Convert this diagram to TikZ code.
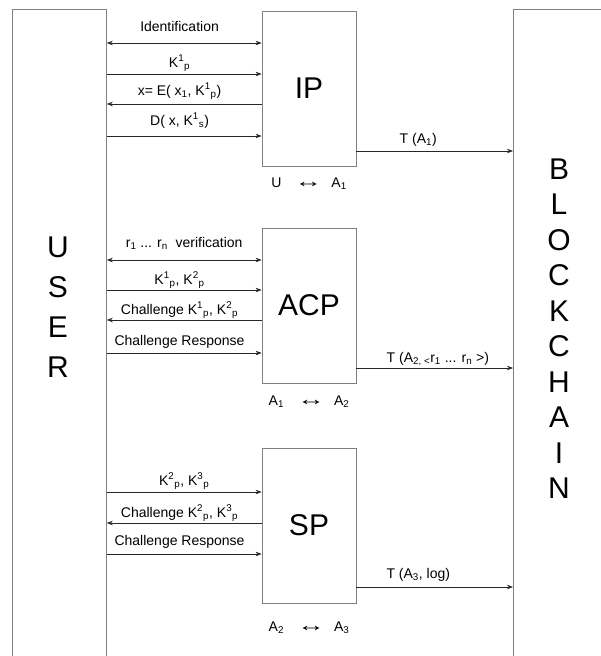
\documentclass[tikz,border=0pt]{standalone}
\usepackage{graphicx}
\usepackage{fontspec}
\setmainfont{Liberation Sans}
\usetikzlibrary{arrows.meta,positioning}

\newcommand{\lr}{\scalebox{2}[1.3]{↔}}

\tikzset{
  side/.style={draw=black!50, line width=0.8pt, anchor=north west, minimum height=700pt},
  box/.style={draw=black!50, line width=0.8pt, minimum width=94pt, minimum height=155pt,
    font=\fontsize{30}{30}\selectfont},
  tall/.style={align=center, inner sep=0pt},
  msg/.style={->, draw=black!85, line width=0.7pt},
  lbl/.style={font=\fontsize{14}{16}\selectfont, anchor=base, inner sep=0pt},
}

\begin{document}
\begin{tikzpicture}[x=1pt, y=-1pt, >={Stealth[length=6pt,width=4.5pt]}]
  \useasboundingbox (0,0) rectangle (601,656);
  \clip (0,0) rectangle (601,656);
  % side columns
  \node[side, minimum width=94pt] (user) at (12,9) {};
  \node[side, minimum width=200pt] (chain) at (513,9) {};
  \node[tall, font=\fontsize{30}{40}\selectfont] (userlbl) at (58,307.5) {U\\S\\E\\R};
  \node[tall, font=\fontsize{30}{35.5}\selectfont] (chainlbl) at (559,328.5) {B\\L\\O\\C\\K\\C\\H\\A\\I\\N};
  % providers
  \node[box] (ip) at (309,88.5) {IP};
  \node[box] (acp) at (309,305.5) {ACP};
  \node[box] (sp) at (309,525.5) {SP};
  \node[lbl, below=21pt of ip.south, anchor=base] (iplink) {U\hspace{13pt}\lr\hspace{9pt}A\textsubscript{1}};
  \node[lbl, below=22pt of acp.south, anchor=base] (acplink) {A\textsubscript{1}\hspace{13pt}\lr\hspace{9pt}A\textsubscript{2}};
  \node[lbl, below=28pt of sp.south, anchor=base] (splink) {A\textsubscript{2}\hspace{13pt}\lr\hspace{9pt}A\textsubscript{3}};
  % IP messages
  \draw[msg, <->] (user.east |- 0,43) -- (ip.west |- 0,43)
    node[lbl, pos=0.47, yshift=12pt] {Identification};
  \draw[msg] (user.east |- 0,74) -- (ip.west |- 0,74)
    node[lbl, pos=0.47, yshift=7pt] {K\textsuperscript{1}\textsubscript{p}};
  \draw[msg] (ip.west |- 0,104) -- (user.east |- 0,104)
    node[lbl, pos=0.53, yshift=9pt] {x= E( x\textsubscript{1}, K\textsuperscript{1}\textsubscript{p})};
  \draw[msg] (user.east |- 0,136) -- (ip.west |- 0,136)
    node[lbl, pos=0.47, yshift=11pt] {D( x, K\textsuperscript{1}\textsubscript{s})};
  % ACP messages
  \draw[msg, <->] (user.east |- 0,260) -- (acp.west |- 0,260)
    node[lbl, pos=0.5, yshift=13pt] {r\textsubscript{1} ... r\textsubscript{n}\ \ verification};
  \draw[msg] (user.east |- 0,290) -- (acp.west |- 0,290)
    node[lbl, pos=0.47, yshift=6pt] {K\textsuperscript{1}\textsubscript{p}, K\textsuperscript{2}\textsubscript{p}};
  \draw[msg] (acp.west |- 0,320) -- (user.east |- 0,320)
    node[lbl, pos=0.53, yshift=6pt] {Challenge K\textsuperscript{1}\textsubscript{p}, K\textsuperscript{2}\textsubscript{p}};
  \draw[msg] (user.east |- 0,353) -- (acp.west |- 0,353)
    node[lbl, pos=0.47, yshift=8pt] {Challenge Response};
  % SP messages
  \draw[msg] (user.east |- 0,492) -- (sp.west |- 0,492)
    node[lbl, pos=0.5, yshift=7pt] {K\textsuperscript{2}\textsubscript{p}, K\textsuperscript{3}\textsubscript{p}};
  \draw[msg] (sp.west |- 0,523) -- (user.east |- 0,523)
    node[lbl, pos=0.53, yshift=6pt] {Challenge K\textsuperscript{2}\textsubscript{p}, K\textsuperscript{3}\textsubscript{p}};
  \draw[msg] (user.east |- 0,554) -- (sp.west |- 0,554)
    node[lbl, pos=0.47, yshift=9pt] {Challenge Response};
  % transactions to the chain
  \draw[msg] (ip.east |- 0,151) -- (chain.west |- 0,151)
    node[lbl, pos=0.395, yshift=8pt] {T (A\textsubscript{1})};
  \draw[msg] (acp.east |- 0,368) -- (chain.west |- 0,368)
    node[lbl, pos=0.52, yshift=6pt] {T (A\textsubscript{2, <}r\textsubscript{1} ... r\textsubscript{n} >)};
  \draw[msg] (sp.east |- 0,587) -- (chain.west |- 0,587)
    node[lbl, pos=0.395, yshift=9pt] {T (A\textsubscript{3}, log)};
\end{tikzpicture}
\end{document}
